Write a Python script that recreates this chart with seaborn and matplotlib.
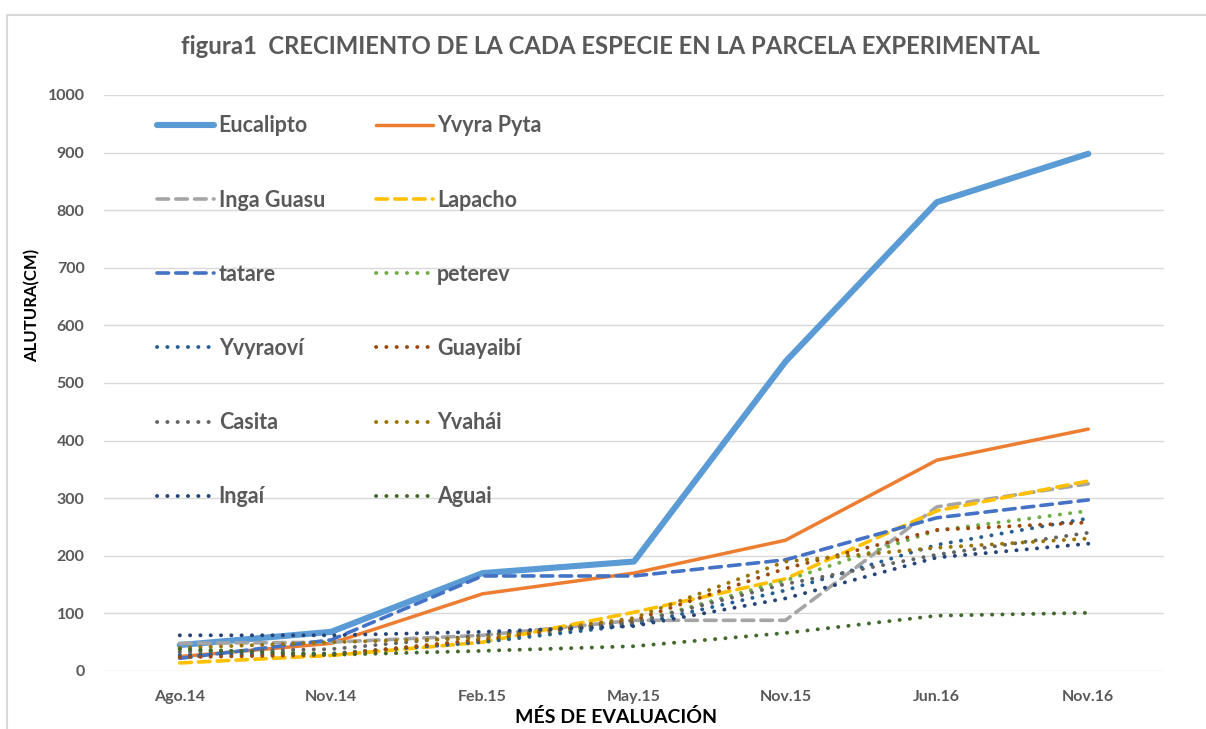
import matplotlib
matplotlib.use("Agg")
import matplotlib.pyplot as plt
import matplotlib.patches as mpatches
import pandas as pd
import seaborn as sns

# Measurement dates
months = ["Ago.14", "Nov.14", "Feb.15", "May.15", "Nov.15", "Jun.16", "Nov.16"]

# Mean height (cm) per species at each measurement
eucalipto = [45, 68, 170, 190, 537, 814, 898]
yvyra_pyta = [25, 48, 134, 170, 227, 366, 420]
inga_guasu = [48, 50, 62, 88, 88, 285, 325]
lapacho = [14, 27, 50, 102, 160, 278, 330]
tatare = [22, 54, 165, 165, 193, 266, 297]
peterev = [38, 30, 52, 84, 157, 244, 278]
yvyraovi = [28, 30, 50, 80, 140, 219, 265]
guayaibi = [24, 28, 55, 88, 178, 245, 258]
casita = [33, 38, 62, 84, 151, 202, 240]
yvahai = [40, 50, 57, 92, 190, 214, 230]
ingai = [62, 62, 68, 78, 126, 197, 221]
aguai = [38, 28, 35, 43, 66, 96, 101]

species = ["Eucalipto", "Yvyra Pyta", "Inga Guasu", "Lapacho", "tatare", "peterev",
           "Yvyraoví", "Guayaibí", "Casita", "Yvahái", "Ingaí", "Aguai"]
series = [eucalipto, yvyra_pyta, inga_guasu, lapacho, tatare, peterev,
          yvyraovi, guayaibi, casita, yvahai, ingai, aguai]

colors = ["#5B9BD5", "#ED7D31", "#A5A5A5", "#FFC000", "#4472C4", "#70AD47",
          "#255E91", "#9E480E", "#636363", "#997300", "#264478", "#43682B"]

SOLID = "-"
DASH = (0, (3.2, 2.0))
DOT = (0, (0.05, 2.6))
styles = [SOLID, SOLID, DASH, DASH, DASH, DOT, DOT, DOT, DOT, DOT, DOT, DOT]
widths = [4.4, 2.5, 2.6, 2.6, 2.6, 2.8, 2.8, 2.8, 2.8, 2.8, 2.8, 2.8]

df = pd.DataFrame({
    "mes": months * len(species),
    "altura": [v for s in series for v in s],
    "especie": [sp for sp in species for _ in months],
})

sns.set_theme(style="white")
plt.rcParams["font.family"] = ["Lato", "DejaVu Sans"]

fig = plt.figure(figsize=(12.06, 7.29), dpi=100)
ax = fig.add_axes([104 / 1206, 1 - 671 / 729, 1060 / 1206, 576 / 729])

handles = {}
for sp, col, ls, lw in zip(species, colors, styles, widths):
    sub = df[df["especie"] == sp]
    sns.lineplot(data=sub, x="mes", y="altura", ax=ax, color=col, linewidth=lw,
                 sort=False, legend=False)
    line = ax.lines[-1]
    line.set_linestyle(ls)
    line.set_dash_capstyle("round")
    line.set_solid_capstyle("round")
    line.set_solid_joinstyle("round")
    handles[sp] = line

ax.set_xlim(-0.5, len(months) - 0.5)
ax.set_ylim(0, 1000)
ax.set_yticks(range(0, 1001, 100))
ax.grid(axis="y", color="#D9D9D9", linewidth=1.0)
ax.grid(axis="x", visible=False)
ax.set_axisbelow(True)
for s in ax.spines.values():
    s.set_visible(False)

ax.tick_params(axis="both", length=0, labelsize=11.5, labelcolor="#595959")
ax.tick_params(axis="y", pad=14)
ax.tick_params(axis="x", pad=14)
for t in ax.get_xticklabels() + ax.get_yticklabels():
    t.set_fontweight("bold")

ax.set_xlabel("MÉS DE EVALUACIÓN", fontsize=14, fontweight="bold", color="black")
ax.set_ylabel("ALUTURA(CM)", fontsize=12, fontweight="bold", color="black")
ax.xaxis.set_label_coords((616 - 104) / 1060, -0.065)
ax.yaxis.set_label_coords((40 - 104) / 1060, (671 - 305) / 576)

fig.text(0.5 * (178 + 1043) / 1206, 1 - 47 / 729,
         "figura1  CRECIMIENTO DE LA CADA ESPECIE EN LA PARCELA EXPERIMENTAL",
         ha="center", va="center", fontsize=17.2, fontweight="bold", color="#595959")

# Legend laid out in two columns, filled row by row
order = ["Eucalipto", "Inga Guasu", "tatare", "Yvyraoví", "Casita", "Ingaí",
         "Yvyra Pyta", "Lapacho", "peterev", "Guayaibí", "Yvahái", "Aguai"]
leg = ax.legend([handles[k] for k in order], order, ncol=2, loc="upper left",
                bbox_to_anchor=(138 / 1206, 1 - 96 / 729), bbox_transform=fig.transFigure,
                frameon=False, fontsize=15.5, handlelength=2.65, handletextpad=0.2,
                columnspacing=2.35, labelspacing=2.47)
for t in leg.get_texts():
    t.set_fontweight("bold")
    t.set_color("#595959")

# Chart area border
fig.patches.append(mpatches.Rectangle((7 / 1206, -0.01), 1.2, 1 - 15 / 729 + 0.01,
                                      transform=fig.transFigure, fill=False,
                                      edgecolor="#D9D9D9", linewidth=1.5))

fig.savefig("out.png", dpi=100)
